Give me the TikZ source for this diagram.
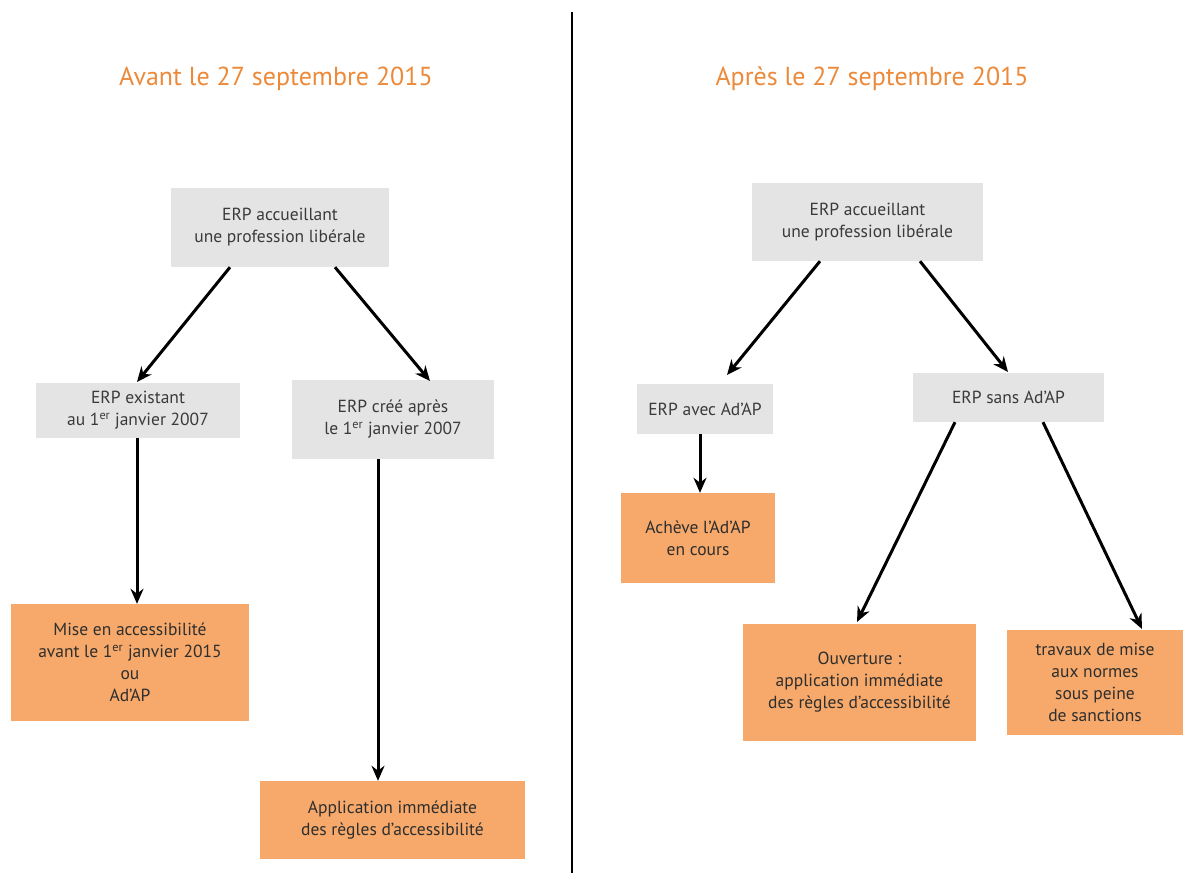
\documentclass[tikz,border=0pt]{standalone}
\usepackage{fontspec}
\setmainfont{PT Sans}
\usetikzlibrary{arrows.meta}
\definecolor{boxgray}{HTML}{E4E4E4}
\definecolor{boxorange}{HTML}{F6A96A}
\definecolor{titleorange}{HTML}{EC8A3A}
\definecolor{txt}{HTML}{3A3A3A}
\tikzset{
  gbox/.style={fill=boxgray, text=txt, align=center, inner sep=0pt, font=\fontsize{17.5}{22}\selectfont},
  obox/.style={fill=boxorange, text=txt!80!black, align=center, inner sep=0pt, font=\fontsize{17.5}{22}\selectfont},
  ttl/.style={text=titleorange, font=\fontsize{26}{30}\selectfont},
  arr/.style={line width=3pt, -{Stealth[length=15pt,width=13pt]}},
}
\begin{document}
\begin{tikzpicture}[x=1pt,y=-1pt]
\useasboundingbox (0,0) rectangle (1184,873);
\fill[white] (0,0) rectangle (1184,873);
\draw[line width=2.6pt] (572,12) coordinate (d1) -- (572,873) coordinate (d2);
% titles
\node[ttl] (t1) at (276,79) {Avant le 27 septembre 2015};
\node[ttl] (t2) at (872,79) {Après le 27 septembre 2015};
% left
\node[gbox, minimum width=218pt, minimum height=79pt] (l0) at (280,227.5) {ERP accueillant\\une profession libérale};
\node[gbox, minimum width=204pt, minimum height=55pt] (l1) at (138,410.5) {ERP existant\\au 1\textsuperscript{er} janvier 2007};
\node[gbox, minimum width=202pt, minimum height=79pt] (l2) at (393,419.5) {ERP créé après\\le 1\textsuperscript{er} janvier 2007};
\node[obox, minimum width=238pt, minimum height=117pt] (l3) at (130,662.5) {Mise en accessibilité\\avant le 1\textsuperscript{er} janvier 2015\\ou\\Ad’AP};
\node[obox, minimum width=265pt, minimum height=78pt] (l4) at (392.5,820) {Application immédiate\\des règles d’accessibilité};
\draw[arr] (l0.south -| 230,0) -- (137,382);
\draw[arr] (l0.south -| 335,0) -- (430,381);
\draw[arr] (l1.south -| 137,0) -- (l3.north -| 137,0);
\draw[arr] (l2.south -| 378,0) -- (l4.north -| 378,0);
% right
\node[gbox, minimum width=231pt, minimum height=78pt] (r0) at (867.5,222) {ERP accueillant\\une profession libérale};
\node[gbox, minimum width=136pt, minimum height=50pt] (r1) at (705,409) {ERP avec Ad’AP};
\node[gbox, minimum width=191pt, minimum height=49pt] (r2) at (1008.5,397.5) {ERP sans Ad’AP};
\node[obox, minimum width=154pt, minimum height=90pt] (r3) at (698,538) {Achève l’Ad’AP\\en cours};
\node[obox, minimum width=233pt, minimum height=117pt] (r4) at (859.5,682.5) {Ouverture :\\application immédiate\\des règles d’accessibilité};
\node[obox, minimum width=176pt, minimum height=105pt] (r5) at (1095,682.5) {travaux de mise\\aux normes\\sous peine\\de sanctions};
\draw[arr] (r0.south -| 820,0) -- (727,375);
\draw[arr] (r0.south -| 920,0) -- (1008,372);
\draw[arr] (r1.south -| 700,0) -- (r3.north -| 700,0);
\draw[arr] (r2.south -| 955,0) -- (857,622);
\draw[arr] (r2.south -| 1043,0) -- (1142,629);
\end{tikzpicture}
\end{document}
